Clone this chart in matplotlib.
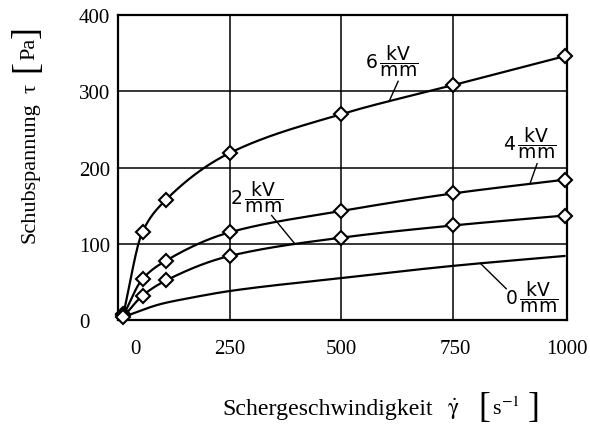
import numpy as np
import matplotlib
matplotlib.use("Agg")
import matplotlib.pyplot as plt

# ---- data: shear rate [1/s] and shear stress [Pa] for each field strength ----
shear_rate_pts = [12, 55, 108, 250, 500, 750, 1000]
tau_6kv = [8, 116, 158, 219, 270, 308, 346]
tau_4kv = [6, 54, 78, 115, 143, 166, 184]
tau_2kv = [4, 32, 52, 84, 108, 124, 137]

# field-free curve (no measured markers shown)
shear_rate_0kv = [12, 96, 162, 250, 500, 750, 1000]
tau_0kv = [4, 21, 29, 38, 55, 71, 84]

field_labels = ["6", "4", "2", "0"]
x_ticks = [0, 250, 500, 750, 1000]
y_ticks = [0, 100, 200, 300, 400]

SERIF = "Liberation Serif"
W, H = 590, 427


def smooth(x, y, n=400):
    """Monotone cubic (Fritsch-Carlson) curve through the given points."""
    x = np.asarray(x, float)
    y = np.asarray(y, float)
    h = np.diff(x)
    d = np.diff(y) / h
    m = np.zeros_like(y)
    m[0], m[-1] = d[0], d[-1]
    for k in range(1, len(x) - 1):
        if d[k - 1] * d[k] <= 0:
            m[k] = 0.0
        else:
            w1 = 2 * h[k] + h[k - 1]
            w2 = h[k] + 2 * h[k - 1]
            m[k] = (w1 + w2) / (w1 / d[k - 1] + w2 / d[k])
    xs = np.linspace(x[0], x[-1], n)
    idx = np.clip(np.searchsorted(x, xs) - 1, 0, len(x) - 2)
    t = (xs - x[idx]) / h[idx]
    h00 = 2 * t**3 - 3 * t**2 + 1
    h10 = t**3 - 2 * t**2 + t
    h01 = -2 * t**3 + 3 * t**2
    h11 = t**3 - t**2
    ys = (h00 * y[idx] + h10 * h[idx] * m[idx]
          + h01 * y[idx + 1] + h11 * h[idx] * m[idx + 1])
    return xs, ys


def px(x, y):
    """Pixel position (from top-left) to figure fraction."""
    return x / W, 1 - y / H


fig = plt.figure(figsize=(W / 100, H / 100), dpi=100)
ax = fig.add_axes([118 / W, 106 / H, (567 - 118) / W, (321 - 16) / H])
ax.set_xlim(0, 1000)
ax.set_ylim(0, 400)

# grid
for gx in x_ticks[1:-1]:
    ax.axvline(gx, color="black", lw=1.1, zorder=1)
for gy in y_ticks[1:-1]:
    ax.axhline(gy, color="black", lw=1.1, zorder=1)
for s in ax.spines.values():
    s.set_linewidth(1.6)

# curves
curves = {}
for lab, gx, ty, marks in [("6", shear_rate_pts, tau_6kv, True),
                           ("4", shear_rate_pts, tau_4kv, True),
                           ("2", shear_rate_pts, tau_2kv, True),
                           ("0", shear_rate_0kv, tau_0kv, False)]:
    xs, ys = smooth(gx, ty)
    curves[lab] = (xs, ys)
    ax.plot(xs, ys, color="black", lw=1.6, zorder=3, solid_capstyle="round")
    if marks:
        ax.plot(gx, ty, ls="none", marker="D", ms=6.8, mfc="white",
                mec="black", mew=1.5, zorder=4, clip_on=False)

# field-strength labels with leader lines
label_pos = {"6": (613, 341), "4": (922, 234), "2": (311, 162), "0": (926, 32)}
leader = {"6": ((627, 313), 607), "4": ((938, 205), 922),
          "2": ((344, 137), 396), "0": ((869, 41), 811)}
for lab in field_labels:
    lx, ly = label_pos[lab]
    ax.text(lx, ly, r"$%s\,\dfrac{\mathrm{kV}}{\mathrm{mm}}$" % lab,
            math_fontfamily="dejavusans", fontsize=13.5,
            ha="center", va="center", zorder=5)
    (sx, sy), ex = leader[lab]
    xs, ys = curves[lab]
    ey = np.interp(ex, xs, ys)
    ax.plot([sx, ex], [sy, ey], color="black", lw=1.0, zorder=3)

# ticks
ax.tick_params(length=0)
ax.set_xticks([38, 250, 500, 755, 1005])
ax.set_xticklabels([str(v) for v in x_ticks], fontfamily=SERIF, fontsize=15)
ax.set_yticks(y_ticks)
ax.set_yticklabels([str(v) for v in y_ticks], fontfamily=SERIF, fontsize=15,
                   ha="left")
ax.tick_params(axis="y", pad=28)
ax.tick_params(axis="x", pad=14)

# y-axis title
fig.text(*px(30, 173), "Schubspannung", rotation=90, fontfamily=SERIF,
         fontsize=16, ha="center", va="center")
fig.text(*px(31, 89), "τ", rotation=90, fontfamily=SERIF,
         fontsize=16, ha="center", va="center")
fig.text(*px(27, 66), "[", rotation=90, fontfamily=SERIF,
         fontsize=26, ha="center", va="center")
fig.text(*px(30, 49), "Pa", rotation=90, fontfamily=SERIF,
         fontsize=16, ha="center", va="center")
fig.text(*px(27, 32), "]", rotation=90, fontfamily=SERIF,
         fontsize=26, ha="center", va="center")

# x-axis title
fig.text(*px(222, 415), "Schergeschwindigkeit", fontfamily=SERIF,
         fontsize=17.2, ha="left", va="baseline")
fig.text(*px(447, 415), r"$\dot{\mathrm{\gamma}}$", math_fontfamily="stix",
         fontsize=17, ha="left", va="baseline")
fig.text(*px(484, 409), "[", fontfamily=SERIF, fontsize=26,
         ha="center", va="center")
fig.text(*px(492, 415), r"s$^{-1}$", fontfamily=SERIF,
         math_fontfamily="stix", fontsize=16, ha="left", va="baseline")
fig.text(*px(534, 409), "]", fontfamily=SERIF, fontsize=26,
         ha="center", va="center")

fig.savefig("out.png", dpi=100)
